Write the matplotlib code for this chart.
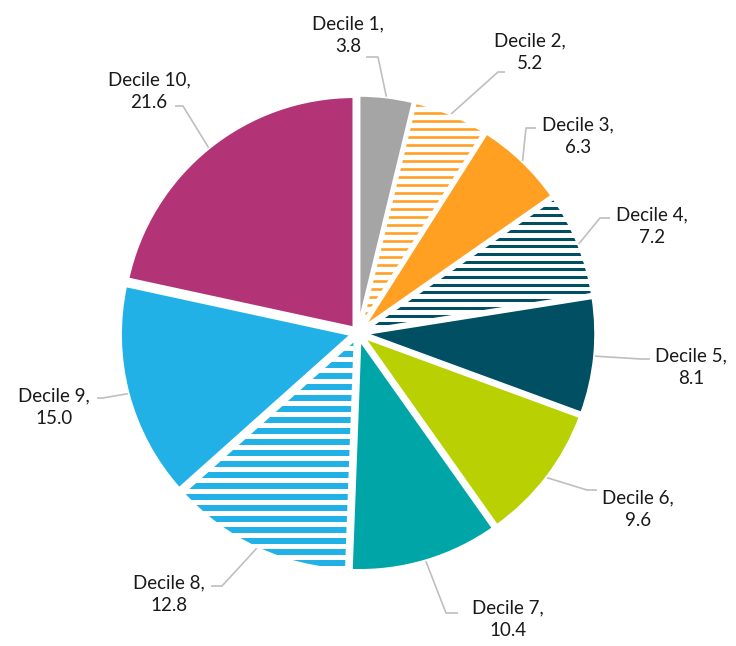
import numpy as np
import matplotlib.pyplot as plt
from matplotlib.patches import Wedge

plt.rcParams['font.family'] = ['Lato', 'DejaVu Sans']

# data
labels = ['Decile 1', 'Decile 2', 'Decile 3', 'Decile 4', 'Decile 5',
          'Decile 6', 'Decile 7', 'Decile 8', 'Decile 9', 'Decile 10']
values = [3.8, 5.2, 6.3, 7.2, 8.1, 9.6, 10.4, 12.8, 15.0, 21.6]

colors = ['#A5A5A5', '#FFA022', '#FFA022', '#004F63', '#004F63',
          '#B9D102', '#00A5A8', '#22B1E6', '#22B1E6', '#B23476']
hatched = [False, True, False, True, False, False, False, True, False, False]
# stripe spacing / thickness (px) for hatched slices
stripe = {1: (8.0, 2.6), 3: (7.7, 3.0), 7: (11.0, 6.0)}

# label layout in pixel coords: text centre, knee, line end
text_pos = [(348, 35), (530, 52), (578, 136), (652, 226), (691, 367),
            (638, 509), (508, 619), (169, 594), (54, 407), (149, 91)]
knees = [(378, 57), (498, 72), (526, 128), (600, 218), (641, 359),
         (587, 490), (446, 613), (222, 586), (103, 398), (183, 106)]
ends = [(366, 57), (505, 72), (536, 128), (610, 218), (650, 359),
        (597, 490), (458, 613), (211, 586), (97, 398), (175, 106)]

W, H = 736, 646
cx, cy = 358, 333
R = 232

fig = plt.figure(figsize=(W / 100, H / 100), dpi=100)
ax = fig.add_axes([0, 0, 1, 1])

explode = [6] * len(values)  # pixels (data units)
face = ['white' if h else c for h, c in zip(hatched, colors)]
wedges, _ = ax.pie(values, colors=face, startangle=90, counterclock=False,
                   radius=R, explode=explode, center=(0, 0), frame=True,
                   wedgeprops=dict(edgecolor='white', linewidth=2.5))
ax.set_xlim(-cx, W - cx)
ax.set_ylim(-(H - cy), cy)
ax.axis('off')

for i, w in enumerate(wedges):
    if not hatched[i]:
        continue
    gap, lw = stripe[i]
    ys = np.arange(-R - 20, R + 20, gap)
    lines = ax.hlines(ys, -R - 20, R + 20, colors=colors[i], linewidth=lw * 0.72, zorder=2)
    lines.set_clip_path(w)
    outline = Wedge(w.center, w.r, w.theta1, w.theta2, fill=False,
                    edgecolor='white', linewidth=2.5, zorder=3)
    ax.add_patch(outline)

def px(p):
    return (p[0] - cx, cy - p[1])

for i, w in enumerate(wedges):
    ang = np.deg2rad((w.theta1 + w.theta2) / 2)
    ox, oy = w.center
    edge = (ox + w.r * np.cos(ang), oy + w.r * np.sin(ang))
    k = px(knees[i])
    e = px(ends[i])
    ax.plot([edge[0], k[0], e[0]], [edge[1], k[1], e[1]], color='#BFBFBF',
            linewidth=1.2, zorder=4, solid_capstyle='butt')
    tx, ty = px(text_pos[i])
    ax.text(tx, ty, f'{labels[i]},\n{values[i]:.1f}', ha='center', va='center',
            multialignment='center', fontsize=13.5, color='#1A1A1A', linespacing=1.4)

fig.savefig('out.png', dpi=100)
